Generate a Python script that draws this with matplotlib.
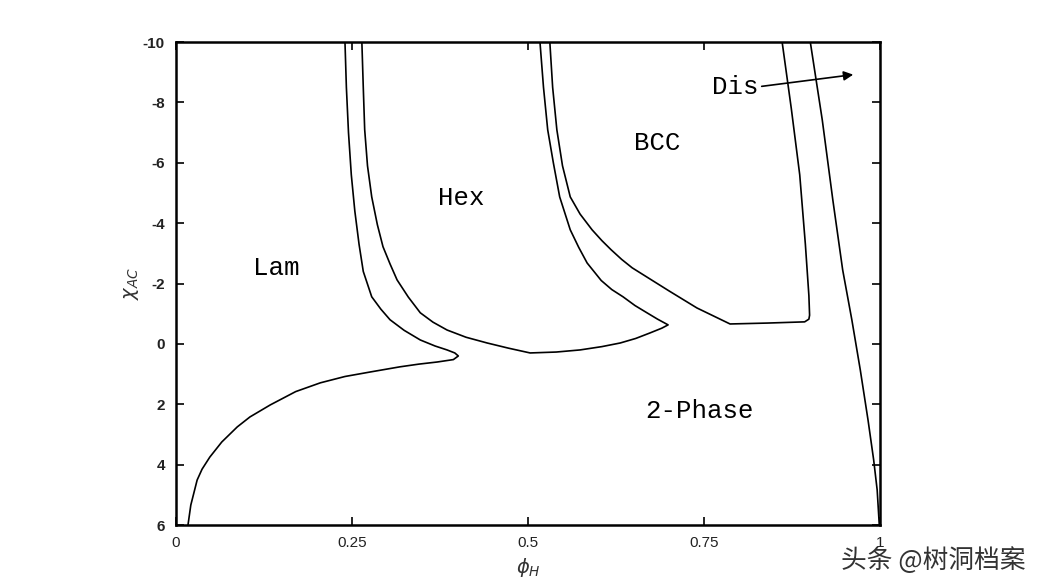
import matplotlib
matplotlib.use("Agg")
import matplotlib.pyplot as plt

plt.rcParams["axes.unicode_minus"] = False

# phase boundaries (phi_H, chi_AC)
lam_x = [0.240, 0.242, 0.245, 0.249, 0.254, 0.260, 0.266, 0.278, 0.291, 0.304, 0.324,
         0.347, 0.368, 0.385, 0.396, 0.401, 0.394, 0.371, 0.345, 0.318, 0.276, 0.240,
         0.205, 0.170, 0.134, 0.105, 0.087, 0.065, 0.048, 0.037, 0.030, 0.021, 0.017]
lam_y = [-10.0, -8.5, -7.0, -5.6, -4.4, -3.3, -2.4, -1.56, -1.15, -0.80, -0.45,
         -0.13, 0.07, 0.20, 0.30, 0.40, 0.52, 0.60, 0.67, 0.76, 0.93, 1.08,
         1.29, 1.58, 2.02, 2.42, 2.75, 3.25, 3.75, 4.15, 4.51, 5.34, 6.0]

hex_x = [0.264, 0.266, 0.268, 0.272, 0.278, 0.286, 0.294, 0.304, 0.314, 0.330, 0.347,
         0.365, 0.385, 0.412, 0.442, 0.472, 0.503, 0.540, 0.574, 0.605, 0.631, 0.653,
         0.673, 0.690, 0.699, 0.684, 0.669, 0.652, 0.635, 0.619, 0.604, 0.584, 0.572,
         0.560, 0.545, 0.536, 0.528, 0.522, 0.517]
hex_y = [-10.0, -8.5, -7.1, -5.9, -4.87, -3.95, -3.22, -2.65, -2.12, -1.55, -1.03,
         -0.72, -0.46, -0.22, -0.03, 0.14, 0.30, 0.27, 0.20, 0.09, -0.03, -0.18,
         -0.36, -0.52, -0.63, -0.82, -1.03, -1.27, -1.56, -1.80, -2.10, -2.68, -3.20,
         -3.78, -4.87, -6.0, -7.09, -8.5, -10.0]

bcc_x = [0.531, 0.535, 0.541, 0.549, 0.560, 0.574, 0.591, 0.605, 0.618, 0.633, 0.648,
         0.700, 0.740, 0.787, 0.840, 0.893, 0.899, 0.900, 0.899, 0.894, 0.886, 0.874,
         0.861]
bcc_y = [-10.0, -8.5, -7.09, -5.9, -4.87, -4.3, -3.78, -3.42, -3.12, -2.80, -2.52,
         -1.76, -1.19, -0.66, -0.69, -0.73, -0.82, -0.95, -1.6, -3.3, -5.6, -7.8,
         -10.0]

dis_x = [0.901, 0.918, 0.933, 0.947, 0.960, 0.972, 0.983, 0.991, 0.996, 0.999]
dis_y = [-10.0, -7.42, -4.77, -2.45, -0.80, 0.86, 2.52, 3.84, 4.84, 6.0]

x_ticks = [0, 0.25, 0.5, 0.75, 1]
x_labels = ["0", "0.25", "0.5", "0.75", "1"]
y_ticks = [-10, -8, -6, -4, -2, 0, 2, 4, 6]

phase_names = ["Lam", "Hex", "BCC", "2-Phase"]
phase_x = [0.143, 0.405, 0.683, 0.744]
phase_y = [-2.52, -4.84, -6.66, 2.22]

fig = plt.figure(figsize=(10.44, 5.87), dpi=100)
ax = fig.add_axes([0.1686, 0.1056, 0.6743, 0.8228])

for xs, ys in [(lam_x, lam_y), (hex_x, hex_y), (bcc_x, bcc_y), (dis_x, dis_y)]:
    ax.plot(xs, ys, color="black", lw=1.2)

mono = "Liberation Mono"
for name, px, py in zip(phase_names, phase_x, phase_y):
    ax.text(px, py, name, family=mono, fontsize=18.5, ha="center", va="center")

ax.annotate("Dis", xy=(0.962, -8.92), xytext=(0.795, -8.52), family=mono,
            fontsize=18.5, ha="center", va="center",
            arrowprops=dict(arrowstyle="-|>", color="black", lw=1.2,
                            mutation_scale=14, shrinkA=0, shrinkB=0,
                            relpos=(1.0, 0.5)))

ax.set_xlim(0, 1)
ax.set_ylim(6, -10)
ax.set_xticks(x_ticks)
ax.set_xticklabels(x_labels)
ax.set_yticks(y_ticks)
ax.tick_params(direction="in", length=6, width=1.2, top=True, right=True,
               labelsize=10, pad=8)
for lab in ax.get_yticklabels():
    lab.set_fontweight("bold")
    lab.set_family("Liberation Sans")
    lab.set_fontsize(11)
    lab.set_color("#222222")
for lab in ax.get_xticklabels():
    lab.set_family("Liberation Sans")
    lab.set_fontsize(11)
    lab.set_color("#222222")
for s in ax.spines.values():
    s.set_linewidth(1.8)

ax.set_xlabel(r"$\phi_H$", fontsize=14, labelpad=4, color="#333333")
ax.set_ylabel(r"$\chi_{AC}$", fontsize=14, labelpad=1, color="#333333")

fig.text(0.982, 0.045, "头条 @树洞档案", family=["Noto Sans CJK SC", "DejaVu Sans"],
         fontsize=18.5, color="#333333", ha="right", va="center")

fig.savefig("out.png", dpi=100, facecolor="white")
